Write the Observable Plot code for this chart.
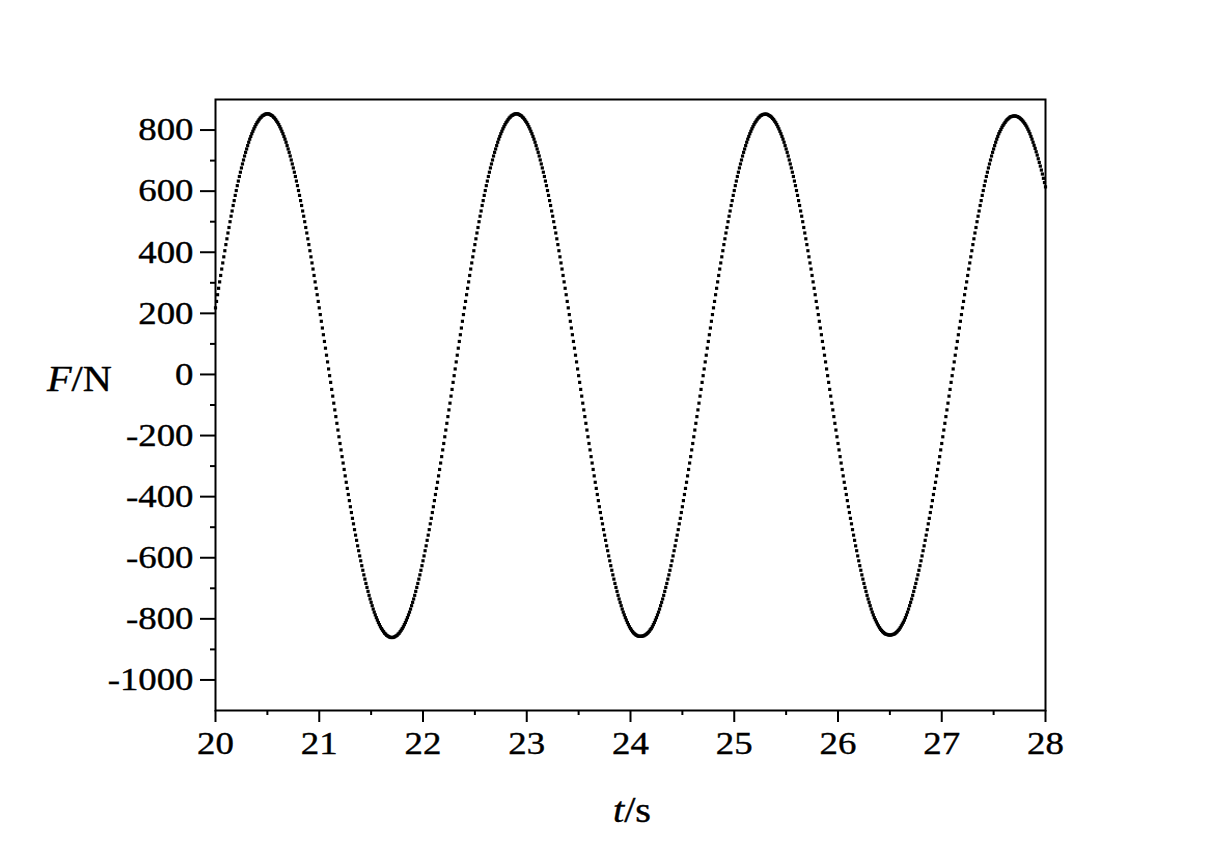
<!DOCTYPE html>
<html>
<head>
<meta charset="utf-8">
<script src="https://cdn.jsdelivr.net/npm/d3@7"></script>
<script src="https://cdn.jsdelivr.net/npm/@observablehq/plot@0.6"></script>
<style>
html, body { margin: 0; padding: 0; background: #ffffff; overflow: hidden; }
#chart svg { display: block; }
</style>
</head>
<body>
<div id="chart"></div>
<script>
// Sampling grid of the recorded force signal (one dot every 0.01 s)
const tStart = 20.00;
const tStep = 0.01;

// Force F (N), segment by segment
const force_20_00 = [
  218,239,261,282,303,324,345,365,385,405,
  425,444,463,481,500,518,535,553,569,586,
  602,618,633,648,662,676,689,702,715,727,
  738,749,760,770,779,788,796,804,811,818,
  824,829,834,839,842,846,848,850,852,853
];
const force_20_50 = [
  853,853,852,850,848,846,842,839,834,829,
  824,818,811,804,796,788,779,770,760,749,
  738,727,715,702,689,676,662,648,633,618,
  602,586,569,553,535,518,500,481,463,444,
  425,405,385,365,345,324,303,282,261,239,
  218,196,174,152,130,108,86,63,41,18,
  -4,-26,-49,-71,-94,-116,-138,-160,-182,-204,
  -226,-247,-269,-290,-311,-332,-353,-373,-393,-413,
  -433,-452,-471,-489,-508,-526,-543,-561,-577,-594,
  -610,-626,-641,-656,-670,-684,-697,-710,-723,-735,
  -746,-757,-768,-778,-787,-796,-804,-812,-819,-826,
  -832,-837,-842,-847,-850,-854,-856,-858,-860,-861,
  -861,-861,-860,-858,-856,-854,-850,-847,-842,-837,
  -832,-826,-819,-812,-804,-796,-787,-778,-768,-757,
  -746,-735,-723,-710,-697,-684,-670,-656,-641,-626,
  -610,-594,-577,-561,-543,-526,-508,-489,-471,-452,
  -433,-413,-393,-373,-353,-332,-311,-290,-269,-247,
  -226,-204,-182,-160,-138,-116,-94,-71,-49,-26,
  -4,18,41,63,86,108,130,152,174,196,
  218,239,261,282,303,324,345,365,385,405,
  425,444,463,481,500,518,535,553,569,586,
  602,618,633,648,662,676,689,702,715,727,
  738,749,760,770,779,788,796,804,811,818,
  824,829,834,839,842,846,848,850,852,853
];
const force_22_90 = [
  853,853,852,850,848,846,842,839,834,829,
  824,818,811,804,796,788,779,770,760,749,
  738,727,715,702,689,676,662,648,633,618,
  602,586,569,553,535,518,500,481,463,444,
  425,405,385,365,345,324,303,282,261,239,
  218,196,174,152,130,108,86,63,41,18,
  -4,-26,-49,-71,-94,-116,-138,-160,-182,-204,
  -226,-247,-269,-290,-311,-332,-353,-373,-393,-413,
  -433,-452,-471,-489,-508,-526,-543,-561,-577,-594,
  -610,-626,-641,-656,-670,-684,-697,-710,-723,-735,
  -746,-757,-768,-778,-787,-796,-804,-812,-819,-826,
  -832,-837,-842,-846,-849,-852,-854,-856,-857,-857,
  -857,-857,-856,-855,-853,-851,-848,-845,-841,-836,
  -832,-826,-819,-812,-804,-796,-787,-778,-768,-757,
  -746,-735,-723,-710,-697,-684,-670,-656,-641,-626,
  -610,-594,-577,-561,-543,-526,-508,-489,-471,-452,
  -433,-413,-393,-373,-353,-332,-311,-290,-269,-247,
  -226,-204,-182,-160,-138,-116,-94,-71,-49,-26,
  -4,18,41,63,86,108,130,152,174,196,
  218,239,261,282,303,324,345,365,385,405,
  425,444,463,481,500,518,535,553,569,586,
  602,618,633,648,662,676,689,702,715,727,
  738,749,760,770,779,788,796,804,811,818,
  824,829,834,839,842,846,848,850,851,852
];
const force_25_30 = [
  852,852,851,849,847,845,842,838,834,829,
  824,818,811,804,796,788,779,770,760,749,
  738,727,715,702,689,676,662,648,633,618,
  602,586,569,553,535,518,500,481,463,444,
  425,405,385,365,345,324,303,282,261,239,
  218,196,174,152,130,108,86,63,41,18,
  -4,-26,-49,-71,-94,-116,-138,-160,-182,-204,
  -226,-247,-269,-290,-311,-332,-353,-373,-393,-413,
  -433,-452,-471,-489,-508,-526,-543,-561,-577,-594,
  -610,-626,-641,-656,-670,-684,-697,-710,-723,-735,
  -746,-757,-768,-778,-787,-796,-803,-810,-817,-823,
  -829,-834,-838,-842,-845,-848,-850,-851,-852,-853,
  -853,-853,-852,-851,-850,-848,-845,-842,-838,-834,
  -829,-823,-817,-811,-804,-796,-787,-778,-768,-757,
  -746,-735,-723,-710,-697,-684,-670,-656,-641,-626,
  -610,-594,-577,-561,-543,-526,-508,-489,-471,-452,
  -433,-413,-393,-373,-353,-332,-311,-290,-269,-247,
  -226,-204,-182,-160,-138,-116,-94,-71,-49,-26,
  -4,18,41,63,86,108,130,152,174,196,
  218,239,261,282,303,324,345,365,385,405,
  425,444,463,481,500,518,535,553,569,586,
  602,618,633,648,662,676,689,702,715,727,
  738,749,760,770,779,788,795,802,809,815,
  820,825,830,834,837,840,843,844,845,846
];
const force_27_70 = [
  846,846,845,844,842,840,837,834,830,826,
  821,816,810,803,796,788,779,770,760,750,
  740,729,718,706,694,682,669,656,642,628,
  614
];

// Axis tick values
const xMajorTicks = [20, 21, 22, 23, 24, 25, 26, 27, 28];
const xMinorTicks = [20.5, 21.5, 22.5, 23.5, 24.5, 25.5, 26.5, 27.5];
const yMajorTicks = [-1000, -800, -600, -400, -200, 0, 200, 400, 600, 800];
const yMinorTicks = [-900, -700, -500, -300, -100, 100, 300, 500, 700];

// Axis titles
const yTitleMain = "F", yTitleUnit = "/N";
const xTitleMain = "t", xTitleUnit = "/s";

// Build the table the library needs
const forceValues = [].concat(force_20_00, force_20_50, force_22_90, force_25_30, force_27_70);
const data = forceValues.map((F, i) => ({ t: +(tStart + i * tStep).toFixed(2), F }));

const FONT = "'Liberation Serif', 'Times New Roman', serif";

const plot = Plot.plot({
  width: 1212,
  height: 851,
  marginLeft: 215,
  marginRight: 167,
  marginTop: 99,
  marginBottom: 141,
  style: { fontFamily: FONT, background: "#ffffff", color: "#000000" },
  x: { domain: [20, 28], label: null },
  y: { domain: [-1100, 900], label: null },
  marks: [
    Plot.dot(data, { x: "t", y: "F", symbol: "square", r: 1.8, fill: "#000000", stroke: null }),
    Plot.axisX({ ticks: xMajorTicks, tickSize: 12, tickPadding: 9, strokeWidth: 2,
                 fontSize: 32, tickFormat: d => String(d), label: null }),
    Plot.axisX({ ticks: xMinorTicks, tickSize: 5, strokeWidth: 2, tickFormat: () => "", label: null }),
    Plot.axisY({ ticks: yMajorTicks, tickSize: 15, tickPadding: 7, strokeWidth: 2,
                 fontSize: 32, tickFormat: d => String(d), label: null }),
    Plot.axisY({ ticks: yMinorTicks, tickSize: 5, strokeWidth: 2, tickFormat: () => "", label: null }),
    Plot.frame({ stroke: "#000000", strokeWidth: 2 })
  ]
});

document.getElementById("chart").appendChild(plot);

// Slightly widen the tick labels (the reference typeface is horizontally stretched)
const svg = d3.select(plot);
svg.selectAll("g[aria-label$='tick label'] text").each(function () {
  const tr = this.getAttribute("transform") || "";
  this.setAttribute("transform", tr + " scale(1.15,1)");
  this.setAttribute("stroke", "#000000");
  this.setAttribute("stroke-width", "0.4");
});

// Axis titles with italic symbol
function addTitle(x, y, anchor, main, unit) {
  const t = svg.append("text")
    .attr("transform", `translate(${x},${y}) scale(1.15,1)`)
    .attr("text-anchor", anchor)
    .attr("font-family", FONT)
    .attr("font-size", 35)
    .attr("fill", "#000000")
    .attr("stroke", "#000000")
    .attr("stroke-width", 0.4);
  t.append("tspan").attr("font-style", "italic").text(main);
  t.append("tspan").text(unit);
}
addTitle(47, 391, "start", yTitleMain, yTitleUnit);
addTitle(632, 822, "middle", xTitleMain, xTitleUnit);
</script>
</body>
</html>
